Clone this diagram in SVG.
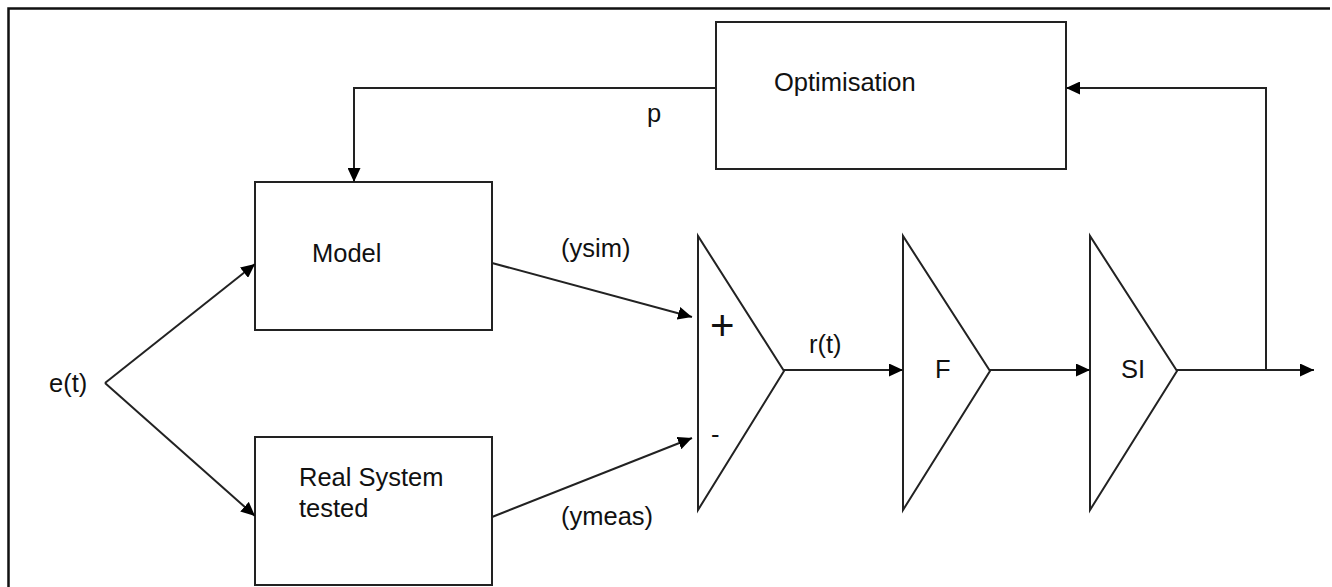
<svg xmlns="http://www.w3.org/2000/svg" width="1332" height="587" viewBox="0 0 1332 587">
<style>
.box{fill:#fff;stroke:#222;stroke-width:2}
.ln{fill:none;stroke:#222;stroke-width:2}
.t{font-family:"Liberation Sans",Arial,sans-serif;font-size:25.5px;fill:#111}
.plus{font-size:42px}
</style>
<defs>
<marker id="ah" viewBox="0 0 14 13" refX="14" refY="6.5" markerWidth="14" markerHeight="13" markerUnits="userSpaceOnUse" orient="auto">
<path d="M0,0 L14,6.5 L0,13 z" fill="#000"/>
</marker>
</defs>
<rect width="1332" height="587" fill="#fff"/>
<path d="M8.5,587 L8.5,8.5 L1330,8.5" fill="none" stroke="#111" stroke-width="2.5"/>

<g id="optimisation">
<rect class="box" x="716" y="22" width="350" height="147"/>
<text class="t" x="774" y="91">Optimisation</text>
</g>
<g id="model">
<rect class="box" x="255" y="182" width="237" height="148"/>
<text class="t" x="312" y="262">Model</text>
</g>
<g id="real-system">
<rect class="box" x="255" y="437" width="237" height="148"/>
<text class="t" x="299" y="486">Real System</text>
<text class="t" x="299" y="517">tested</text>
</g>
<g id="comparator">
<path class="ln" d="M698,236 L698,510 L784,371 Z"/>
<text class="t plus" x="710" y="340">+</text>
<text class="t" x="711" y="443">-</text>
</g>
<g id="filter-f">
<path class="ln" d="M903,236 L903,510 L990,371 Z"/>
<text class="t" x="935" y="378">F</text>
</g>
<g id="si">
<path class="ln" d="M1090,236 L1090,510 L1177,371 Z"/>
<text class="t" x="1121" y="378">SI</text>
</g>

<g id="connectors">
<path class="ln" d="M716,88 L354,88 L354,182" marker-end="url(#ah)"/>
<path class="ln" d="M105,383 L255,264" marker-end="url(#ah)"/>
<path class="ln" d="M105,383 L255,516" marker-end="url(#ah)"/>
<path class="ln" d="M492,263 L692,317" marker-end="url(#ah)"/>
<path class="ln" d="M492,517 L692,438" marker-end="url(#ah)"/>
<path class="ln" d="M784,370 L903,370" marker-end="url(#ah)"/>
<path class="ln" d="M990,370 L1090,370" marker-end="url(#ah)"/>
<path class="ln" d="M1177,370 L1314,370" marker-end="url(#ah)"/>
<path class="ln" d="M1266,370 L1266,88 L1066,88" marker-end="url(#ah)"/>
</g>

<g id="labels">
<text class="t" x="49" y="392">e(t)</text>
<text class="t" x="647" y="122">p</text>
<text class="t" x="561" y="257">(ysim)</text>
<text class="t" x="561" y="525">(ymeas)</text>
<text class="t" x="809" y="353">r(t)</text>
</g>
</svg>
